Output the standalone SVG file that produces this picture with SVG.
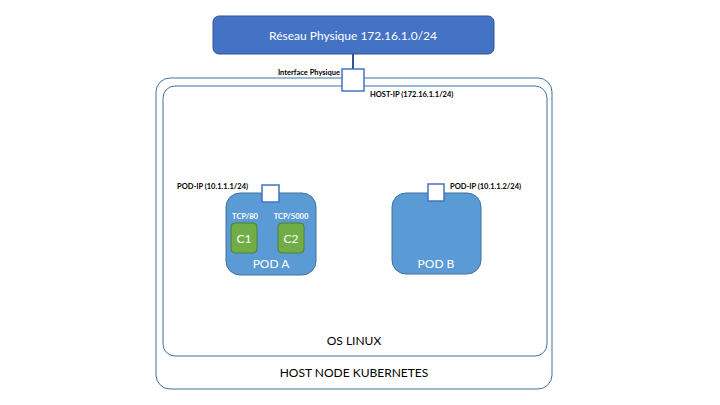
<svg xmlns="http://www.w3.org/2000/svg" width="720" height="405" viewBox="0 0 720 405">
<style>
text{font-family:Lato,"Open Sans","Liberation Sans",sans-serif}
.frame{fill:none;stroke:#41719C;stroke-width:1}
.lbl{font-size:7.5px;font-weight:bold;fill:#000}
.big{font-size:12px;fill:#000;text-anchor:middle}
.w{fill:#fff;text-anchor:middle}
.pod{fill:#5B9BD5;stroke:#41719C;stroke-width:1}
.ctr{fill:#70AD47;stroke:#507E32;stroke-width:1}
.port{fill:#fff;stroke:#4472C4;stroke-width:1.5}
</style>
<rect width="720" height="405" fill="#fff"/>
<g id="host-node">
<rect class="frame" x="156" y="78" width="396" height="311" rx="14"/>
<text class="big" x="354" y="377">HOST NODE KUBERNETES</text>
</g>
<g id="os-linux">
<rect class="frame" x="163" y="86" width="384" height="270" rx="12"/>
<text class="big" x="354" y="345">OS LINUX</text>
</g>
<g id="connectors">
<line x1="353" y1="54" x2="353" y2="69" stroke="#2F5597" stroke-width="2"/>
</g>
<g id="reseau">
<rect x="213" y="16" width="281" height="38" rx="6" fill="#4472C4" stroke="#2F5597" stroke-width="1"/>
<text class="w" x="353" y="39.5" font-size="12">Réseau Physique 172.16.1.0/24</text>
</g>
<g id="interface-physique">
<rect class="port" x="342" y="69" width="22" height="22"/>
<text class="lbl" x="340" y="75" text-anchor="end">Interface Physique</text>
<text class="lbl" x="370" y="97">HOST-IP (172.16.1.1/24)</text>
</g>
<g id="pod-a">
<rect class="pod" x="226" y="193" width="90" height="82" rx="14"/>
<rect class="port" x="262" y="185" width="17" height="17"/>
<text class="lbl" x="177" y="189">POD-IP (10.1.1.1/24)</text>
<text class="w" x="271" y="268" font-size="12">POD A</text>
</g>
<g id="c1">
<text class="lbl w" x="245" y="219">TCP/80</text>
<rect class="ctr" x="231" y="223" width="26" height="30" rx="4"/>
<text class="w" x="244" y="242.5" font-size="12">C1</text>
</g>
<g id="c2">
<text class="lbl w" x="291" y="219">TCP/5000</text>
<rect class="ctr" x="278" y="223" width="26" height="30" rx="4"/>
<text class="w" x="291" y="242.5" font-size="12">C2</text>
</g>
<g id="pod-b">
<rect class="pod" x="392" y="193" width="89" height="81" rx="14"/>
<rect class="port" x="428" y="184" width="16" height="17"/>
<text class="lbl" x="450" y="189">POD-IP (10.1.1.2/24)</text>
<text class="w" x="436" y="268" font-size="12">POD B</text>
</g>
</svg>
